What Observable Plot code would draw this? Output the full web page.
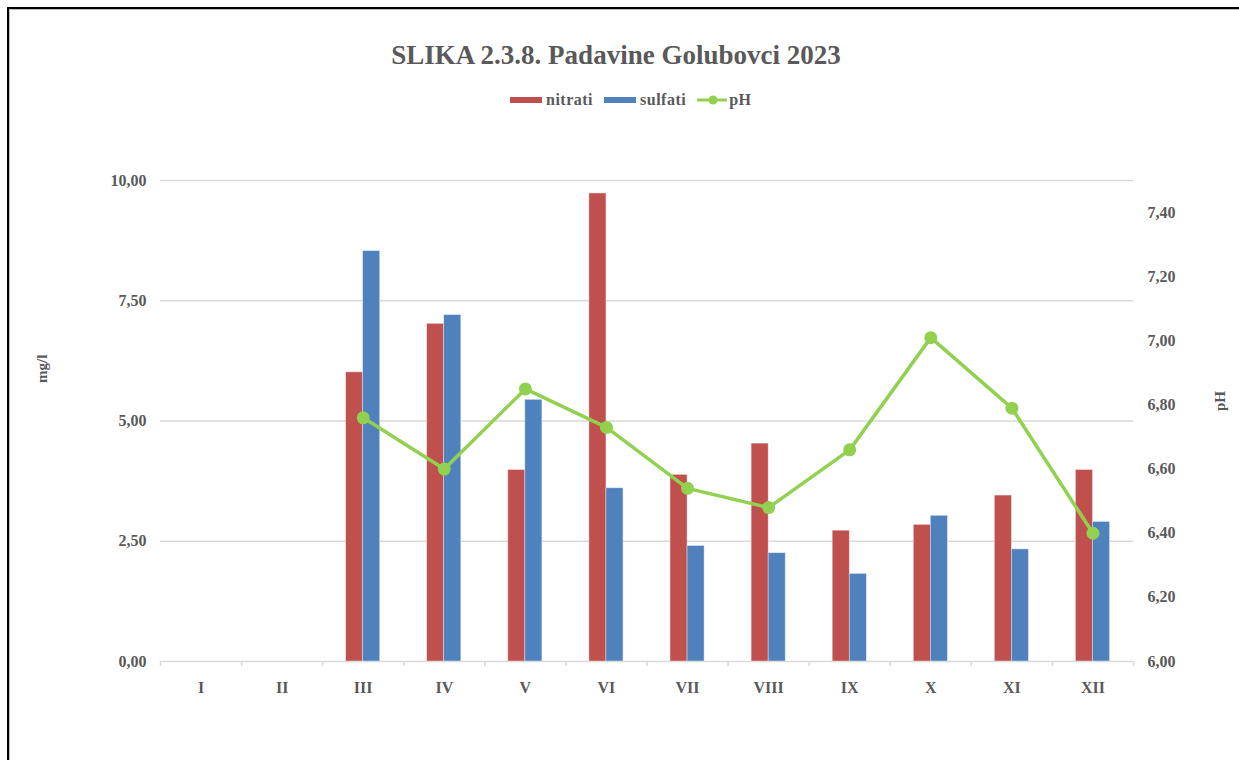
<!DOCTYPE html>
<html>
<head>
<meta charset="utf-8">
<script src="https://cdn.jsdelivr.net/npm/d3@7"></script>
<script src="https://cdn.jsdelivr.net/npm/@observablehq/plot@0.6"></script>
<style>
  html, body { margin: 0; padding: 0; background: #fff; overflow: hidden; }
  body { width: 1239px; height: 760px; position: relative; font-family: "Liberation Serif", "Times New Roman", serif; }
  #frame { position: absolute; left: 7px; top: 7px; width: 1300px; height: 800px;
           border-top: 2px solid #000; border-left: 2px solid #000; box-shadow: inset 1px 1px 0 #bbb; }
  #chart { position: absolute; left: 0; top: 0; }
  #title { position: absolute; left: 0; width: 1232px; top: 40px; text-align: center;
           font-size: 27px; font-weight: bold; color: #595959; line-height: 30px; }
  #legend { position: absolute; left: 510px; top: 90px; height: 20px; display: flex; align-items: center;
            font-size: 16px; font-weight: bold; color: #595959; }
  .sw { display: inline-block; width: 32px; height: 6px; margin-right: 4px; }
  .lab { margin-right: 11px; letter-spacing: 0.5px; }
</style>
</head>
<body>
<div id="frame"></div>
<div id="chart"></div>
<div id="title">SLIKA 2.3.8. Padavine Golubovci 2023</div>
<div id="legend">
  <span class="sw" style="background:#C0504D"></span><span class="lab">nitrati</span>
  <span class="sw" style="background:#4F81BD"></span><span class="lab">sulfati</span>
  <svg width="30" height="12" style="margin-right:2px"><line x1="0" y1="6" x2="30" y2="6" stroke="#92D050" stroke-width="3"/><circle cx="16" cy="6" r="4.5" fill="#92D050"/></svg><span class="lab">pH</span>
</div>
<script>
const months = ["I","II","III","IV","V","VI","VII","VIII","IX","X","XI","XII"];
const nitrati = [null, null, 6.01, 7.02, 3.98, 9.73, 3.88, 4.53, 2.72, 2.84, 3.45, 3.98];
const sulfati = [null, null, 8.53, 7.20, 5.44, 3.60, 2.40, 2.25, 1.82, 3.03, 2.33, 2.90];
const pH      = [null, null, 6.76, 6.60, 6.85, 6.73, 6.54, 6.48, 6.66, 7.01, 6.79, 6.40];
const leftTicks = [0, 2.5, 5, 7.5, 10];
const rightTicks = [6.0, 6.2, 6.4, 6.6, 6.8, 7.0, 7.2, 7.4];
const phMin = 6.0, phMax = 7.5, leftMax = 10;

const toLeft = v => (v - phMin) / (phMax - phMin) * leftMax;
const fmt = v => v.toFixed(2).replace(".", ",");

const rows = months.map((m, i) => ({ i, m, n: nitrati[i], s: sulfati[i], p: pH[i] }));
const bw = 0.21;
const gray = "#595959";

const chart = Plot.plot({
  width: 1239,
  height: 760,
  marginLeft: 160,
  marginRight: 106,
  marginTop: 180,
  marginBottom: 99,
  style: { fontFamily: "Liberation Serif, Times New Roman, serif", fontSize: "16px", fontWeight: "bold", background: "transparent" },
  x: { domain: [0, 12] },
  y: { domain: [0, leftMax] },
  marks: [
    Plot.ruleY(leftTicks, { stroke: "#d9d9d9", strokeWidth: 1.5 }),
    Plot.axisX(d3.range(0, 13), { tickSize: 5, tickFormat: () => "", stroke: "#d9d9d9", strokeWidth: 1.5 }),
    Plot.axisX(months.map((m, i) => i + 0.5), { tickSize: 0, tickPadding: 20, tickFormat: v => months[Math.floor(v)], color: gray, fontSize: 16 }),
    Plot.axisY(leftTicks, { tickSize: 0, tickPadding: 14, tickFormat: fmt, color: gray, label: null }),
    Plot.axisY(rightTicks.map(toLeft), { anchor: "right", tickSize: 0, tickPadding: 14, tickFormat: v => fmt(phMin + v / leftMax * (phMax - phMin)), color: gray, label: null }),
    Plot.rectY(rows.filter(d => d.n != null), { x1: d => d.i + 0.5 - bw, x2: d => d.i + 0.5, y: "n", fill: "#C0504D", stroke: "#f3dede", strokeWidth: 0.5 }),
    Plot.rectY(rows.filter(d => d.s != null), { x1: d => d.i + 0.5, x2: d => d.i + 0.5 + bw, y: "s", fill: "#4F81BD", stroke: "#dde6f2", strokeWidth: 0.5 }),
    Plot.line(rows.filter(d => d.p != null), { x: d => d.i + 0.5, y: d => toLeft(d.p), stroke: "#92D050", strokeWidth: 3.5 }),
    Plot.dot(rows.filter(d => d.p != null), { x: d => d.i + 0.5, y: d => toLeft(d.p), r: 6.5, fill: "#92D050" }),
    Plot.text(["mg/l"], { frameAnchor: "left", dx: -118, dy: -38, rotate: -90, fill: gray, fontSize: 15 }),
    Plot.text(["pH"], { frameAnchor: "right", dx: 87, dy: -30, rotate: -90, fill: gray, fontSize: 15 })
  ]
});
document.getElementById("chart").appendChild(chart);
</script>
</body>
</html>
